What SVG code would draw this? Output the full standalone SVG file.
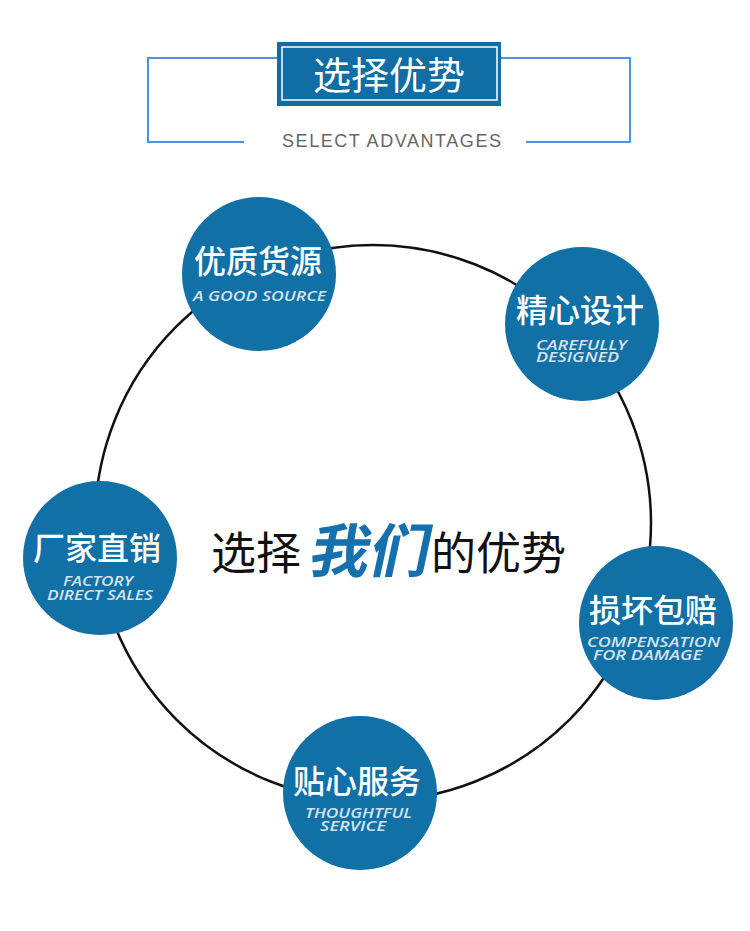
<svg xmlns="http://www.w3.org/2000/svg" width="750" height="931" viewBox="0 0 750 931">
<style>
.bracket{fill:none;stroke:#4a94e0;stroke-width:2}
.node{fill:#1170a6}
.cn{font-family:"Noto Sans CJK SC","Noto Sans",sans-serif;fill:#fff;font-size:32px;font-weight:500;text-anchor:middle}
.en{font-family:"Open Sans","Liberation Sans",sans-serif;font-style:italic;font-weight:600;fill:#d6e3ef;font-size:14.5px}
.center{font-family:"Noto Sans CJK SC",sans-serif;font-size:45px;fill:#111}
</style>
<rect width="750" height="931" fill="#fff"/>
<g id="header">
<polyline class="bracket" points="277,58 148,58 148,142 244,142"/>
<polyline class="bracket" points="500,58 630,58 630,142 526,142"/>
<rect x="277" y="42" width="224" height="64" fill="#106ea5"/>
<rect x="282" y="47" width="215" height="53" fill="none" stroke="#fff" stroke-width="1.5"/>
<text x="389" y="89" font-family="'Noto Sans CJK SC',sans-serif" font-size="38" fill="#fff" text-anchor="middle">选择优势</text>
<text x="282" y="147" font-family="'Liberation Sans',Arial,sans-serif" font-size="18" fill="#666" textLength="219" lengthAdjust="spacing">SELECT ADVANTAGES</text>
</g>
<g id="connectors">
<circle cx="373" cy="523" r="278" fill="none" stroke="#111" stroke-width="2.5"/>
</g>
<g id="center-title">
<text class="center" x="211" y="570">选择</text>
<text x="0" y="0" font-family="'Noto Sans CJK SC',sans-serif" font-size="58" font-weight="700" fill="#1670ad" textLength="120" lengthAdjust="spacingAndGlyphs" transform="translate(307,572) skewX(-12)">我们</text>
<text class="center" x="431" y="570">的优势</text>
</g>
<g id="node-source">
<circle class="node" cx="259" cy="274" r="77"/>
<text class="cn" x="258" y="273">优质货源</text>
<text class="en" x="193" y="301" textLength="133" lengthAdjust="spacingAndGlyphs">A GOOD SOURCE</text>
</g>
<g id="node-design">
<circle class="node" cx="582" cy="324" r="77"/>
<text class="cn" x="580" y="322">精心设计</text>
<text class="en" x="536" y="350" textLength="91" lengthAdjust="spacingAndGlyphs">CAREFULLY</text>
<text class="en" x="536" y="362" textLength="83" lengthAdjust="spacingAndGlyphs">DESIGNED</text>
</g>
<g id="node-factory">
<circle class="node" cx="100" cy="558" r="77"/>
<text class="cn" x="97" y="560">厂家直销</text>
<text class="en" x="63" y="586" textLength="70" lengthAdjust="spacingAndGlyphs">FACTORY</text>
<text class="en" x="47" y="600" textLength="106" lengthAdjust="spacingAndGlyphs">DIRECT SALES</text>
</g>
<g id="node-compensation">
<circle class="node" cx="656" cy="623" r="77"/>
<text class="cn" x="653" y="622">损坏包赔</text>
<text class="en" x="587" y="647" textLength="133" lengthAdjust="spacingAndGlyphs">COMPENSATION</text>
<text class="en" x="593" y="660" textLength="109" lengthAdjust="spacingAndGlyphs">FOR DAMAGE</text>
</g>
<g id="node-service">
<circle class="node" cx="360" cy="793" r="77"/>
<text class="cn" x="357" y="793">贴心服务</text>
<text class="en" x="305" y="818" textLength="107" lengthAdjust="spacingAndGlyphs">THOUGHTFUL</text>
<text class="en" x="320" y="831" textLength="66" lengthAdjust="spacingAndGlyphs">SERVICE</text>
</g>
</svg>
